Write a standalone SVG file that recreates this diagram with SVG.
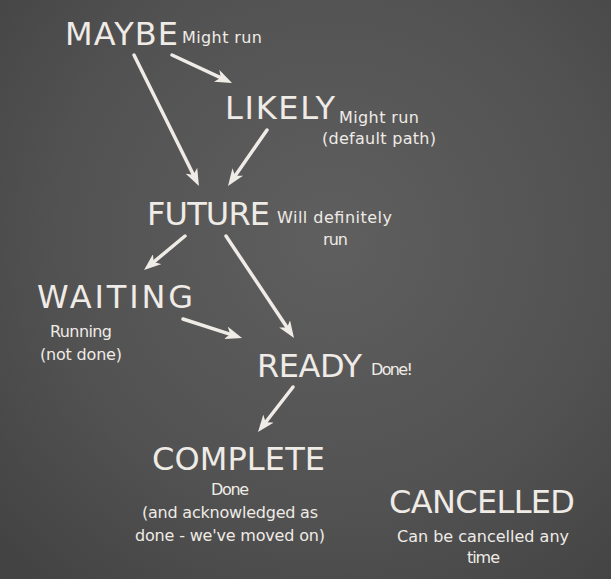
<svg xmlns="http://www.w3.org/2000/svg" width="611" height="579" viewBox="0 0 611 579">
<defs>
<radialGradient id="bg" cx="330" cy="240" r="450" gradientUnits="userSpaceOnUse">
<stop offset="0" stop-color="#5f5f5f"/>
<stop offset="0.6" stop-color="#525252"/>
<stop offset="1" stop-color="#434343"/>
</radialGradient>
<marker id="arr" markerUnits="userSpaceOnUse" viewBox="0 0 17 13" refX="9" refY="6.5" markerWidth="17" markerHeight="13" orient="auto">
<path d="M0,0 L17,6.5 L0,13 L4.5,6.5 Z" fill="#efebe6"/>
</marker>
</defs>
<style>
.big{font-family:"DejaVu Sans","Liberation Sans",sans-serif;font-size:32px;fill:#efebe6;}
.sm{font-family:"DejaVu Sans","Liberation Sans",sans-serif;font-size:16px;fill:#efebe6;}
.c line{stroke:#efebe6;stroke-width:3.5;stroke-linecap:round;marker-end:url(#arr);}
</style>
<rect width="611" height="579" fill="url(#bg)"/>
<g id="connectors" class="c">
<line x1="172" y1="55" x2="224.8" y2="79.6"/>
<line x1="134" y1="55" x2="195.4" y2="178.8"/>
<line x1="267" y1="130" x2="232.6" y2="179.4"/>
<line x1="185" y1="236" x2="150.2" y2="264.9"/>
<line x1="226" y1="236" x2="289.6" y2="331.3"/>
<line x1="183" y1="319" x2="234.4" y2="335.6"/>
<line x1="293" y1="387" x2="262.9" y2="425.7"/>
</g>
<g id="maybe">
<text class="big" x="65" y="45" textLength="113">MAYBE</text>
<text class="sm" x="182" y="43" textLength="80">Might run</text>
</g>
<g id="likely">
<text class="big" x="225" y="119" textLength="110">LIKELY</text>
<text class="sm" x="339" y="123" textLength="80">Might run</text>
<text class="sm" x="322" y="144" textLength="114">(default path)</text>
</g>
<g id="future">
<text class="big" x="147" y="225" textLength="123">FUTURE</text>
<text class="sm" x="277" y="223" textLength="115">Will definitely</text>
<text class="sm" x="323" y="245" textLength="25">run</text>
</g>
<g id="waiting">
<text class="big" x="37" y="308" textLength="156">WAITING</text>
<text class="sm" x="50" y="337" textLength="62">Running</text>
<text class="sm" x="40" y="360" textLength="82">(not done)</text>
</g>
<g id="ready">
<text class="big" x="257" y="377" textLength="105">READY</text>
<text class="sm" x="371" y="375" textLength="42">Done!</text>
</g>
<g id="complete">
<text class="big" x="152" y="470" textLength="173">COMPLETE</text>
<text class="sm" x="211" y="495" textLength="38">Done</text>
<text class="sm" x="142" y="518" textLength="176">(and acknowledged as</text>
<text class="sm" x="135" y="541" textLength="190">done - we've moved on)</text>
</g>
<g id="cancelled">
<text class="big" x="389" y="513" textLength="186">CANCELLED</text>
<text class="sm" x="397" y="542" textLength="172">Can be cancelled any</text>
<text class="sm" x="467" y="563" textLength="33">time</text>
</g>
</svg>
